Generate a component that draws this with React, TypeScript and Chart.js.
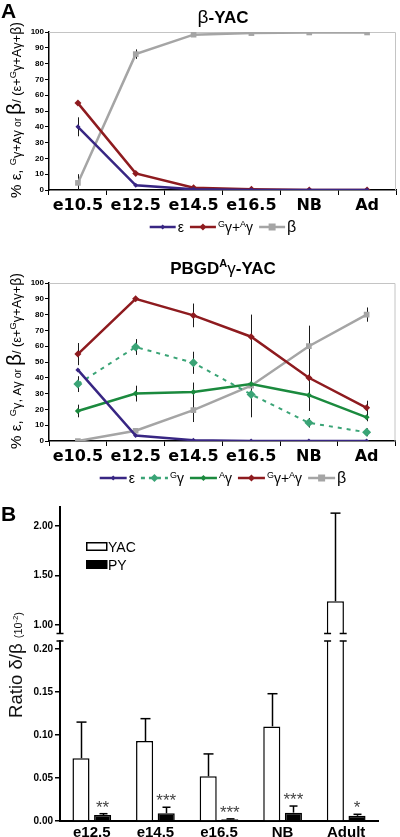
import React, { useEffect, useRef } from 'react';
import { Chart, registerables } from 'chart.js';
Chart.register(...registerables);
Chart.defaults.font.family = 'Liberation Sans';
Chart.defaults.color = '#000';

// ---------- Panel A data ----------
const stagesA = ['e10.5', 'e12.5', 'e14.5', 'e16.5', 'NB', 'Ad'];
const yacEps = [40, 3, 0.4, 0, 0, 0];
const yacEpsErr = [6, 0, 0, 0, 0, 0];
const yacGA = [55, 10.5, 1.5, 0.5, 0, 0];
const yacGAErr = [0, 0, 0, 0, 0, 0];
const yacBeta = [4.5, 86, 98.3, 99.3, 99.7, 99.7];
const yacBetaErr = [5.5, 3, 0, 0, 0, 0];

const pbgdEps = [45, 3.5, 0.5, 0, 0, 0];
const pbgdG = [36, 59.5, 49.5, 29.5, 11.5, 5.5];
const pbgdGErr = [5, 5, 7, 0, 3, 2.5];
const pbgdA = [19, 30, 31, 36, 29, 15];
const pbgdAErr = [4, 5, 6, 0, 0, 2.5];
const pbgdGA = [55, 90, 79.5, 66, 40, 21];
const pbgdGAErr = [7, 0, 7.5, 14, 21, 4.5];
const pbgdBeta = [0, 6.5, 19.5, 35, 60, 80];
const pbgdBetaErr = [0, 0, 7.5, 20, 13, 4.5];

// ---------- Panel B data ----------
const stagesB = ['e12.5', 'e14.5', 'e16.5', 'NB', 'Adult'];
const ratioYAC = [0.073, 0.093, 0.052, 0.110, 1.24];
const ratioYACErr = [0.042, 0.026, 0.026, 0.038, 0.89];
const ratioPY = [0.007, 0.009, 0.002, 0.0097, 0.006];
const ratioPYErr = [0.0015, 0.007, 0.0005, 0.0077, 0.0018];
const sigPY = ['**', '***', '***', '***', '*'];
const ticksBLow = [0, 0.05, 0.1, 0.15, 0.2];
const ticksBHigh = [1, 1.5, 2];
const rangeBLow = [0, 0.2093];
const rangeBHigh = [0.919, 2.192];

// ---------- colours ----------
const C_EPS = '#382683';
const C_GA = '#8e1b1f';
const C_BETA = '#a5a5a5';
const C_G = '#3aa476';
const C_A = '#1b8a3e';

type Seg = { t: string; s: number; dy?: number; w?: string };
const FAM = 'Liberation Sans';

function segFont(g: Seg, f = 1) {
  return `${g.w || 'normal'} ${g.s * f}px "${FAM}"`;
}
function measureRich(ctx: any, segs: Seg[], f = 1) {
  let w = 0;
  for (const g of segs) {
    ctx.font = segFont(g, f);
    w += ctx.measureText(g.t).width;
  }
  return w;
}
function drawRich(ctx: any, segs: Seg[], x: number, y: number, color = '#000', f = 1) {
  let cx = x;
  ctx.fillStyle = color;
  ctx.textAlign = 'left';
  ctx.textBaseline = 'alphabetic';
  for (const g of segs) {
    ctx.font = segFont(g, f);
    ctx.fillText(g.t, cx, y + (g.dy || 0) * f);
    cx += ctx.measureText(g.t).width;
  }
  return cx;
}

function drawMarker(ctx: any, style: string, x: number, y: number, r: number, color: string) {
  ctx.save();
  ctx.fillStyle = color;
  ctx.beginPath();
  if (style === 'square') {
    ctx.rect(x - r, y - r, 2 * r, 2 * r);
  } else if (style === 'circle') {
    ctx.arc(x, y, r, 0, Math.PI * 2);
  } else {
    ctx.moveTo(x, y - r);
    ctx.lineTo(x + r, y);
    ctx.lineTo(x, y + r);
    ctx.lineTo(x - r, y);
    ctx.closePath();
  }
  ctx.fill();
  ctx.restore();
}

type LegItem = { color: string; marker: string; r: number; dash?: number[]; segs: Seg[] };

function drawLegend(ctx: any, items: LegItem[], cx: number, y: number, L: number) {
  const gapA = 2, gapB = 6;
  let total = 0;
  items.forEach((it, i) => {
    total += L + gapA + measureRich(ctx, it.segs) + (i < items.length - 1 ? gapB : 0);
  });
  let x = cx - total / 2;
  for (const it of items) {
    ctx.save();
    ctx.strokeStyle = it.color;
    ctx.lineWidth = 2.5;
    ctx.setLineDash(it.dash || []);
    ctx.beginPath();
    ctx.moveTo(x, y);
    ctx.lineTo(x + L, y);
    ctx.stroke();
    ctx.restore();
    drawMarker(ctx, it.marker, x + L / 2, y, it.r, it.color);
    x += L + gapA;
    x = drawRich(ctx, it.segs, x, y + 4.5, '#000');
    x += gapB;
  }
}

function drawRotatedTitle(ctx: any, segs: Seg[], xBase: number, yBottom: number, len: number, color = '#000') {
  const w = measureRich(ctx, segs);
  const f = len / w;
  ctx.save();
  ctx.translate(xBase, yBottom);
  ctx.rotate(-Math.PI / 2);
  drawRich(ctx, segs, 0, 0, color, f);
  ctx.restore();
}

// ---------- plugins for line panels ----------
const lineBackPlugin = {
  id: 'lineBack',
  beforeDatasetsDraw(chart: any) {
    const { ctx, chartArea: a, scales } = chart;
    const y = scales.y;
    ctx.save();
    ctx.strokeStyle = '#c4c4c4';
    ctx.lineWidth = 1;
    ctx.beginPath();
    ctx.moveTo(a.left, a.top + 0.5);
    ctx.lineTo(a.right - 0.5, a.top + 0.5);
    ctx.lineTo(a.right - 0.5, a.bottom);
    ctx.stroke();
    ctx.beginPath();
    ctx.rect(a.left, a.top - 2, a.right - a.left, a.bottom - a.top + 2);
    ctx.clip();
    ctx.strokeStyle = '#1a1a1a';
    ctx.lineWidth = 1;
    chart.data.datasets.forEach((ds: any, i: number) => {
      const errs = ds.errs;
      if (!errs) return;
      const meta = chart.getDatasetMeta(i);
      meta.data.forEach((pt: any, j: number) => {
        const e = errs[j];
        if (!e) return;
        const v = ds.data[j];
        const x = Math.round(pt.x) + 0.5;
        ctx.beginPath();
        ctx.moveTo(x, y.getPixelForValue(v + e));
        ctx.lineTo(x, y.getPixelForValue(v - e));
        ctx.stroke();
      });
    });
    ctx.restore();
  },
};

function makeDecor(title: Seg[], yTitle: Seg[], legend: LegItem[], legendL: number, panelLabel?: string) {
  return {
    id: 'decor',
    afterDraw(chart: any) {
      const ctx = chart.ctx;
      ctx.save();
      if (panelLabel) {
        ctx.font = `bold 21px "${FAM}"`;
        ctx.fillStyle = '#000';
        ctx.textAlign = 'left';
        ctx.textBaseline = 'alphabetic';
        ctx.fillText(panelLabel, 1, 18);
      }
      const tw = measureRich(ctx, title);
      drawRich(ctx, title, 223 - tw / 2, 22.5);
      drawRotatedTitle(ctx, yTitle, 21, 198, 176);
      drawLegend(ctx, legend, 223, 227, legendL);
      ctx.restore();
    },
  };
}

function makeLineConfig(datasets: any[], title: Seg[], yTitle: Seg[], legend: LegItem[], legendL: number, panelLabel?: string) {
  return {
    type: 'line',
    data: { labels: stagesA, datasets },
    options: {
      responsive: false,
      animation: false,
      events: [],
      layout: { padding: { top: 32, right: 2, left: 0, bottom: 0 } },
      plugins: { legend: { display: false }, title: { display: false }, tooltip: { enabled: false } },
      scales: {
        x: {
          type: 'category',
          offset: true,
          grid: { drawOnChartArea: false, drawTicks: true, tickLength: 5, color: '#000', lineWidth: 1, offset: true },
          border: { display: true, color: '#000', width: 1.5 },
          ticks: {
            autoSkip: false,
            maxRotation: 0,
            padding: 1,
            color: '#000',
            font: { family: 'DejaVu Sans', weight: 'bold', size: 16 },
          },
          afterFit: (s: any) => {
            s.height = 50;
          },
        },
        y: {
          min: 0,
          max: 100,
          grid: { drawOnChartArea: false, drawTicks: true, tickLength: 4, color: '#000', lineWidth: 1 },
          border: { display: true, color: '#000', width: 1.5 },
          ticks: { stepSize: 10, padding: 1, color: '#000', font: { family: FAM, weight: 'bold', size: 8 } },
          afterFit: (s: any) => {
            s.width = 49;
          },
        },
      },
    },
    plugins: [lineBackPlugin, makeDecor(title, yTitle, legend, legendL, panelLabel)],
  };
}

function lineDs(label: string, data: number[], errs: number[] | null, color: string, marker: string, r: number, extra: any = {}) {
  return {
    label,
    data,
    errs,
    borderColor: color,
    backgroundColor: color,
    borderWidth: 2.5,
    pointStyle: marker,
    pointRadius: r,
    pointBorderWidth: 0,
    pointBackgroundColor: color,
    tension: 0,
    fill: false,
    ...extra,
  };
}

const supG: Seg = { t: 'G', s: 9, dy: -5 };
const supA: Seg = { t: 'A', s: 9, dy: -5 };

function configA1() {
  const datasets = [
    lineDs('ε', yacEps, yacEpsErr, C_EPS, 'rectRot', 2.5),
    lineDs('Gγ+Aγ', yacGA, yacGAErr, C_GA, 'rectRot', 3.5),
    lineDs('β', yacBeta, yacBetaErr, C_BETA, 'rect', 4),
  ];
  const title: Seg[] = [
    { t: 'β', s: 19 },
    { t: '-YAC', s: 17, w: 'bold' },
  ];
  const yTitle: Seg[] = [
    { t: '% ε, ', s: 13 },
    { t: 'G', s: 8, dy: -4 },
    { t: 'γ+', s: 11 },
    { t: 'A', s: 10 },
    { t: 'γ', s: 11 },
    { t: ' or ', s: 9 },
    { t: 'β', s: 18 },
    { t: '/ (ε+', s: 11 },
    { t: 'G', s: 8, dy: -4 },
    { t: 'γ+A', s: 11 },
    { t: 'γ+', s: 11 },
    { t: 'β)', s: 12 },
  ];
  const legend: LegItem[] = [
    { color: C_EPS, marker: 'diamond', r: 2.5, segs: [{ t: 'ε', s: 14 }] },
    { color: C_GA, marker: 'diamond', r: 3.5, segs: [supG, { t: 'γ+', s: 14 }, supA, { t: 'γ', s: 14 }] },
    { color: C_BETA, marker: 'square', r: 3.5, segs: [{ t: 'β', s: 16 }] },
  ];
  return makeLineConfig(datasets, title, yTitle, legend, 26, 'A');
}

function configA2() {
  const datasets = [
    lineDs('ε', pbgdEps, null, C_EPS, 'rectRot', 2.5),
    lineDs('Gγ', pbgdG, pbgdGErr, C_G, 'rectRot', 4.5, { borderDash: [4, 5], borderWidth: 2 }),
    lineDs('Aγ', pbgdA, pbgdAErr, C_A, 'rectRot', 3),
    lineDs('Gγ+Aγ', pbgdGA, pbgdGAErr, C_GA, 'rectRot', 3.5),
    lineDs('β', pbgdBeta, pbgdBetaErr, C_BETA, 'rect', 4),
  ];
  const title: Seg[] = [
    { t: 'PBGD', s: 17, w: 'bold' },
    { t: 'A', s: 11, w: 'bold', dy: -7 },
    { t: 'γ', s: 17 },
    { t: '-YAC', s: 17, w: 'bold' },
  ];
  const yTitle: Seg[] = [
    { t: '% ε, ', s: 13 },
    { t: 'G', s: 8, dy: -4 },
    { t: 'γ, ', s: 11 },
    { t: 'A', s: 10 },
    { t: 'γ', s: 11 },
    { t: ' or ', s: 9 },
    { t: 'β', s: 18 },
    { t: '/ (ε+', s: 11 },
    { t: 'G', s: 8, dy: -4 },
    { t: 'γ+A', s: 11 },
    { t: 'γ+', s: 11 },
    { t: 'β)', s: 12 },
  ];
  const legend: LegItem[] = [
    { color: C_EPS, marker: 'diamond', r: 2.5, segs: [{ t: 'ε', s: 14 }] },
    { color: C_G, marker: 'diamond', r: 4, dash: [4, 4], segs: [supG, { t: 'γ', s: 14 }] },
    { color: C_A, marker: 'diamond', r: 3, segs: [supA, { t: 'γ', s: 14 }] },
    { color: C_GA, marker: 'diamond', r: 3.5, segs: [supG, { t: 'γ+', s: 14 }, supA, { t: 'γ', s: 14 }] },
    { color: C_BETA, marker: 'square', r: 3.5, segs: [{ t: 'β', s: 16 }] },
  ];
  return makeLineConfig(datasets, title, yTitle, legend, 27);
}

// ---------- panel B ----------
const barErrPlugin = {
  id: 'barErr',
  afterDatasetsDraw(chart: any) {
    const { ctx, scales } = chart;
    const y = scales.y;
    ctx.save();
    ctx.strokeStyle = '#000';
    ctx.lineWidth = 1.5;
    chart.data.datasets.forEach((ds: any, i: number) => {
      const meta = chart.getDatasetMeta(i);
      meta.data.forEach((bar: any, j: number) => {
        const v = ds.data[j];
        if (v == null || v > y.max) return;
        const top = v + ds.errs[j];
        const x = Math.round(bar.x) + 0.5;
        const y0 = y.getPixelForValue(v);
        const y1 = y.getPixelForValue(Math.min(top, y.max));
        ctx.beginPath();
        ctx.moveTo(x, y0);
        ctx.lineTo(x, y1);
        ctx.stroke();
        if (top <= y.max) {
          const cw = i === 0 ? 5 : 4;
          ctx.beginPath();
          ctx.moveTo(x - cw, y1);
          ctx.lineTo(x + cw, y1);
          ctx.stroke();
        }
      });
    });
    ctx.restore();
  },
};

const lowerDecor = {
  id: 'lowerDecor',
  afterDraw(chart: any) {
    const { ctx, scales, chartArea: a } = chart;
    const y = scales.y;
    ctx.save();
    ctx.font = `bold 21px "${FAM}"`;
    ctx.fillStyle = '#000';
    ctx.textAlign = 'left';
    ctx.textBaseline = 'alphabetic';
    ctx.fillText('B', 1, 26);
    ctx.lineWidth = 1.5;
    ctx.strokeStyle = '#000';
    ctx.fillStyle = '#fff';
    ctx.fillRect(86.75, 47.75, 20, 7.5);
    ctx.strokeRect(86.75, 47.75, 20, 7.5);
    ctx.fillStyle = '#000';
    ctx.fillRect(86, 65, 21.5, 9);
    ctx.font = `normal 14px "${FAM}"`;
    ctx.fillText('YAC', 108, 56.5);
    ctx.fillText('PY', 108, 74.5);
    drawRotatedTitle(ctx, [
      { t: 'Ratio δ/β ', s: 18 },
      { t: '(10', s: 10.5 },
      { t: '-2', s: 7.5, dy: -4 },
      { t: ')', s: 10.5 },
    ], 22, 223, 106, '#111');
    const meta = chart.getDatasetMeta(1);
    ctx.font = `normal 17px "${FAM}"`;
    ctx.fillStyle = '#444';
    ctx.textAlign = 'center';
    meta.data.forEach((bar: any, j: number) => {
      const top = ratioPY[j] + ratioPYErr[j];
      ctx.fillText(sigPY[j], bar.x, y.getPixelForValue(top) - 1);
    });
    ctx.strokeStyle = '#000';
    ctx.lineWidth = 1.5;
    const yb1 = a.top - 7.5;
    const yb2 = a.top;
    const mark = (x: number, yy: number) => {
      ctx.beginPath();
      ctx.moveTo(x - 3.5, yy);
      ctx.lineTo(x + 3.5, yy);
      ctx.stroke();
    };
    mark(a.left, yb1);
    mark(a.left, yb2);
    const m0 = chart.getDatasetMeta(0);
    m0.data.forEach((bar: any, j: number) => {
      if (ratioYAC[j] > y.max) {
        const l = bar.x - bar.width / 2 + 0.75;
        const r = bar.x + bar.width / 2 - 0.75;
        mark(l, yb1); mark(l, yb2); mark(r, yb1); mark(r, yb2);
      }
    });
    ctx.restore();
  },
};

function barDatasets(filter: (v: number) => boolean) {
  return [
    {
      label: 'YAC',
      data: ratioYAC.map((v) => (filter(v) ? v : null)),
      errs: ratioYACErr,
      backgroundColor: '#fff',
      borderColor: '#000',
      borderWidth: 1.5,
      categoryPercentage: 0.68,
      barPercentage: 0.79,
    },
    {
      label: 'PY',
      data: ratioPY.map((v) => (filter(v) ? v : null)),
      errs: ratioPYErr,
      backgroundColor: '#000',
      borderColor: '#000',
      borderWidth: 1.5,
      categoryPercentage: 0.68,
      barPercentage: 0.79,
    },
  ];
}

function yBarScale(range: number[], ticks: number[]) {
  return {
    min: range[0],
    max: range[1],
    beginAtZero: false,
    afterBuildTicks: (s: any) => {
      s.ticks = ticks.map((v) => ({ value: v }));
    },
    grid: { drawOnChartArea: false, drawTicks: true, tickLength: 5, color: '#000', lineWidth: 1.5 },
    border: { display: true, color: '#000', width: 2 },
    ticks: {
      padding: 2,
      color: '#000',
      font: { family: FAM, weight: 'bold', size: 10 },
      callback: (v: any) => Number(v).toFixed(2),
    },
    afterFit: (s: any) => {
      s.width = 60;
    },
  };
}

function configBUpper() {
  return {
    type: 'bar',
    data: { labels: stagesB, datasets: barDatasets((v) => v >= rangeBHigh[0]) },
    options: {
      responsive: false,
      animation: false,
      events: [],
      layout: { padding: { top: 12, right: 22, left: 0, bottom: 204 } },
      plugins: { legend: { display: false }, title: { display: false }, tooltip: { enabled: false } },
      scales: {
        x: { display: false },
        y: yBarScale(rangeBHigh, ticksBHigh),
      },
    },
    plugins: [barErrPlugin],
  };
}

function configBLower() {
  return {
    type: 'bar',
    data: { labels: stagesB, datasets: barDatasets(() => true) },
    options: {
      responsive: false,
      animation: false,
      events: [],
      layout: { padding: { top: 146, right: 22, left: 0, bottom: 0 } },
      plugins: { legend: { display: false }, title: { display: false }, tooltip: { enabled: false } },
      scales: {
        x: {
          grid: { display: true, drawOnChartArea: false, drawTicks: false },
          border: { display: true, color: '#000', width: 2 },
          ticks: {
            autoSkip: false,
            maxRotation: 0,
            padding: 3,
            color: '#000',
            font: { family: FAM, weight: 'bold', size: 15 },
          },
          afterFit: (s: any) => {
            s.height = 16;
          },
        },
        y: yBarScale(rangeBLow, ticksBLow),
      },
    },
    plugins: [barErrPlugin, lowerDecor],
  };
}

function ChartCanvas({ top, height, make }: { top: number; height: number; make: () => any }) {
  const ref = useRef<HTMLCanvasElement>(null);
  useEffect(() => {
    const chart = new Chart(ref.current as HTMLCanvasElement, make());
    return () => chart.destroy();
  }, []);
  return (
    <canvas
      ref={ref}
      width={400}
      height={height}
      style={{ position: 'absolute', left: 0, top, width: 400, height, display: 'block' }}
    />
  );
}

export default function App() {
  return (
    <div style={{ position: 'absolute', left: 0, top: 0, width: 400, height: 837, background: '#fff', overflow: 'hidden' }}>
      <ChartCanvas top={0} height={240} make={configA1} />
      <ChartCanvas top={251} height={240} make={configA2} />
      <ChartCanvas top={495} height={342} make={configBUpper} />
      <ChartCanvas top={495} height={342} make={configBLower} />
    </div>
  );
}
